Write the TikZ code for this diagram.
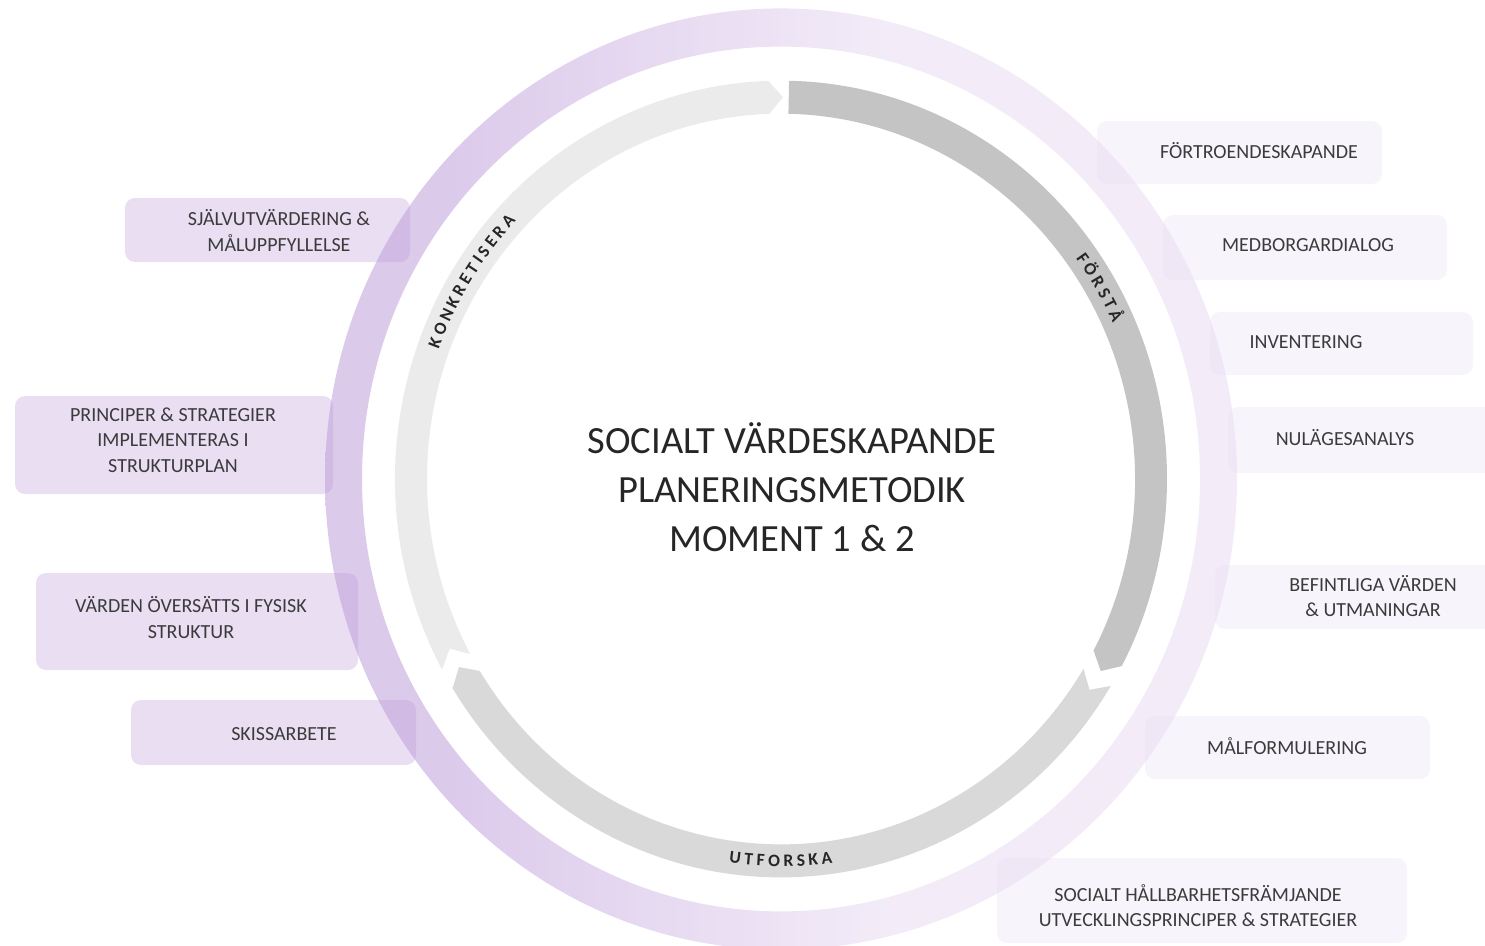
\documentclass[tikz,border=0pt]{standalone}
\usepackage{fontspec}
\setmainfont{Carlito}
\usepackage{tikz}

\definecolor{ringdark}{HTML}{BF9FDB}
\definecolor{ringlight}{HTML}{E9DCF2}
\definecolor{leftbox}{HTML}{E9DEF2}
\definecolor{rightbox}{HTML}{F8F4FB}
\definecolor{segdark}{HTML}{C4C4C4}
\definecolor{segmid}{HTML}{D9D9D9}
\definecolor{seglight}{HTML}{EBEBEB}
\definecolor{textgray}{HTML}{3B3B3B}

\pgfdeclarehorizontalshading{ringshade}{100bp}{color(0bp)=(ringdark); color(32bp)=(ringdark); color(56bp)=(ringlight); color(100bp)=(ringlight)}

\begin{document}
\begin{tikzpicture}[x=1pt, y=1pt,
  boxl/.style = {fill=leftbox, rounded corners=10pt},
  boxr/.style = {fill=rightbox, rounded corners=10pt},
  boxtext/.style = {text=textgray, font=\fontsize{20}{25.5}\selectfont, align=center, inner sep=0},
  ringlabel/.style = {text=black!85, font=\fontsize{17.5}{17.5}\selectfont\bfseries, inner sep=0, anchor=base},
  heading/.style = {text=black!85, font=\fontsize{38.5}{49}\selectfont, align=center, inner sep=0}]
\useasboundingbox (0,0) rectangle (1485,-945);
\clip (0,0) rectangle (1485,-945);

% boxes, left
\fill [boxl] (125,-198) rectangle (410,-262);
\fill [boxl] (15,-396) rectangle (333,-494);
\fill [boxl] (36,-573) rectangle (358,-670);
\fill [boxl] (131,-700) rectangle (416,-765);
% boxes, right
\fill [boxr] (1097,-121) rectangle (1382,-184);
\fill [boxr] (1163,-215) rectangle (1447,-280);
\fill [boxr] (1210,-312) rectangle (1473,-375);
\fill [boxr] (1228,-407) rectangle (1500,-473);
\fill [boxr] (1215,-565) rectangle (1500,-629);
\fill [boxr] (1145,-716) rectangle (1430,-779);
\fill [boxr] (997,-858) rectangle (1407,-943);

\begin{scope}[shift={(781,-479)}, yscale=1.032]
% outer ring
\shade [shading=ringshade, fill opacity=0.55, even odd rule] (0,0) circle [radius=456] (0,0) circle [radius=419];
% three arrows
\fill [segdark] (88.8:386) arc [start angle=88.8, end angle=-28, radius=386] -- (-30.2:370) -- (-28:354) arc [start angle=-28, end angle=88.8, radius=354] -- cycle;
\fill [segmid] (-31.3:386) arc [start angle=-31.3, end angle=-148.3, radius=386] -- (-150.5:370) -- (-148.3:354) arc [start angle=-148.3, end angle=-31.3, radius=354] -- (-33.5:370) -- cycle;
\fill [seglight] (208.6:386) arc [start angle=208.6, end angle=91.9, radius=386] -- (89.7:370) -- (91.9:354) arc [start angle=91.9, end angle=208.6, radius=354] -- (206.4:370) -- cycle;
% labels on the arrows
\foreach \ch/\a [count=\i] in {F/35.37, Ö/33.28, R/31.06, S/29.12, T/27.27, Å/25.22}
  \node [ringlabel, rotate=\a-90] (forsta\i) at (\a:364.5) {\ch};
\foreach \ch/\a [count=\i] in {U/-97.1, T/-95.0, F/-93.16, O/-91.07, R/-88.85, S/-86.91, K/-85.0, A/-82.9}
  \node [ringlabel, rotate=\a+90] (utforska\i) at (\a:375.5) {\ch};
\foreach \ch/\a [count=\i] in {K/159.12, O/156.92, N/154.58, K/152.42, R/150.39, E/148.43, T/146.54, I/144.96, S/143.41, E/141.57, R/139.61, A/137.48}
  \node [ringlabel, rotate=\a-90] (konkret\i) at (\a:364.5) {\ch};
\end{scope}

\node [heading] (title) at (792,-487) {SOCIALT VÄRDESKAPANDE\\PLANERINGSMETODIK\\MOMENT 1 \& 2};

% texts, left
\node [boxtext] (sjalv) at (279,-230.5) {SJÄLVUTVÄRDERING \&\\MÅLUPPFYLLELSE};
\node [boxtext] (princip) at (173,-440) {PRINCIPER \& STRATEGIER\\IMPLEMENTERAS I\\STRUKTURPLAN};
\node [boxtext] (varden) at (191,-617.5) {VÄRDEN ÖVERSÄTTS I FYSISK\\STRUKTUR};
\node [boxtext] (skiss) at (284,-734) {SKISSARBETE};
% texts, right
\node [boxtext] (fortro) at (1259,-151) {FÖRTROENDESKAPANDE};
\node [boxtext] (medborg) at (1308,-245) {MEDBORGARDIALOG};
\node [boxtext] (invent) at (1306,-342) {INVENTERING};
\node [boxtext] (nulage) at (1345,-438) {NULÄGESANALYS};
\node [boxtext] (befint) at (1373,-596) {BEFINTLIGA VÄRDEN\\\& UTMANINGAR};
\node [boxtext] (malform) at (1287,-746) {MÅLFORMULERING};
\node [boxtext] (social) at (1198,-905.5) {SOCIALT HÅLLBARHETSFRÄMJANDE\\UTVECKLINGSPRINCIPER \& STRATEGIER};
\end{tikzpicture}
\end{document}
